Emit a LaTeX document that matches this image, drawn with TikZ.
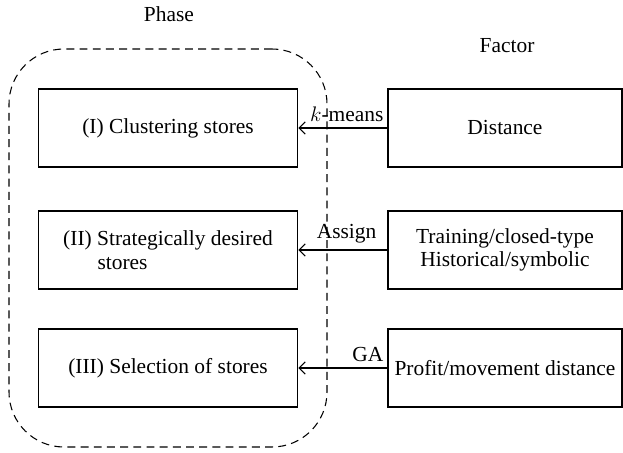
\documentclass[tikz,border=0pt]{standalone}
\usepackage{fontspec}
\setmainfont{Liberation Serif}
\usetikzlibrary{arrows.meta,positioning}
\tikzset{phase state/.style={draw, minimum width=5.19cm, minimum height=1.56cm, align=left}}
\tikzset{factor state/.style={draw, minimum width=4.68cm, minimum height=1.56cm, align=center}}
\tikzset{group state/.style={draw, dash pattern=on 4.5pt off 3pt, rounded corners=1.1cm,
			minimum width=6.36cm, minimum height=7.96cm}}
\tikzset{method label/.style={pos=0, anchor=south east, inner xsep=2pt}}

\begin{document}
\begin{tikzpicture}[->,>={Straight Barb[length=3.5pt,width=7pt]},semithick,
			font=\fontsize{12.2}{13.5}\selectfont]
			\useasboundingbox (0,0) rectangle (12.46,-9.06);
			\node[group state] at (3.36,-4.96) (phases) {};
			\node at (3.38,-0.28) (phase) {Phase};
			\node at (10.14,-0.92) (factor) {Factor};
			\node[phase state] at (3.36,-2.56) (p_1) {(I) Clustering stores};
			\node[phase state] at (3.36,-5.0) (p_2) {(II) Strategically desired\\\hspace*{1.6em}stores};
			\node[phase state] at (3.36,-7.36) (p_3) {(III) Selection of stores};
			\node[factor state] at (10.1,-2.56) (f_1) {Distance};
			\node[factor state] at (10.1,-5.0) (f_2) {Training/closed-type\\Historical/symbolic};
			\node[factor state] at (10.1,-7.36) (f_3) {Profit/movement distance};
			\path (f_1) edge node[method label] {$k$-means} (p_1);
			\path (f_2) edge node[method label, inner xsep=6pt] {Assign} (p_2);
			\path (f_3) edge node[method label] {GA} (p_3);
\end{tikzpicture}
\end{document}
